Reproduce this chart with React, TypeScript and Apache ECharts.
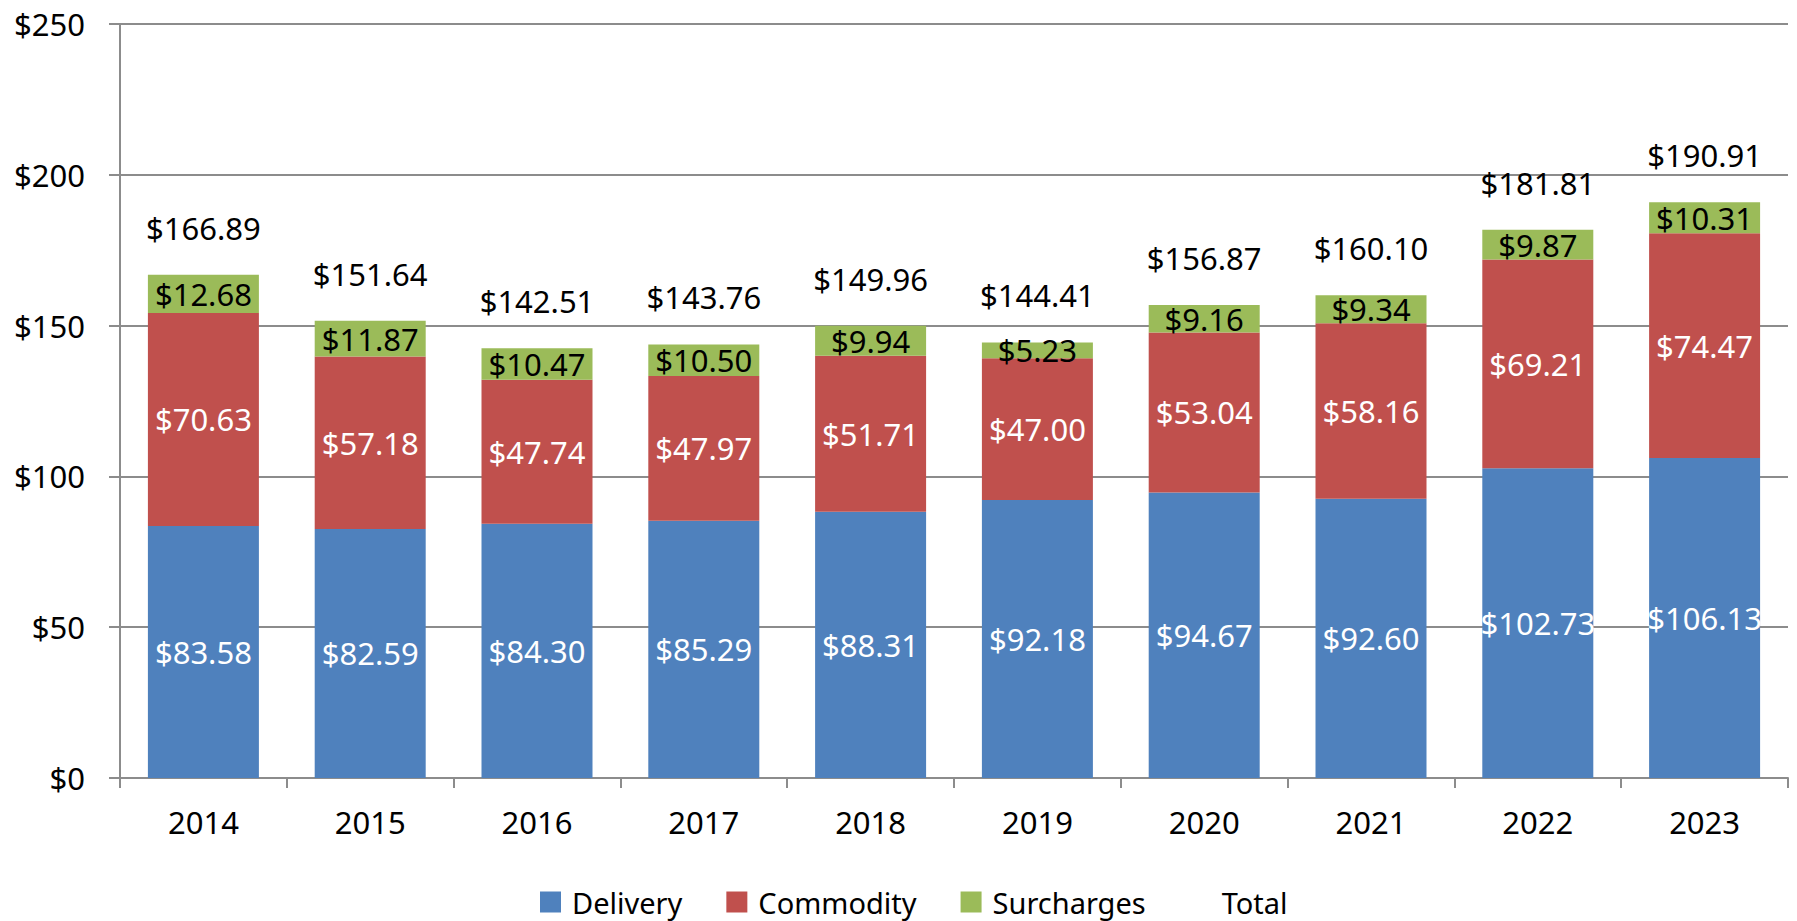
import React, { useEffect, useRef } from "react";
import * as echarts from "echarts";

const years = ["2014", "2015", "2016", "2017", "2018", "2019", "2020", "2021", "2022", "2023"];
const delivery = [83.58, 82.59, 84.3, 85.29, 88.31, 92.18, 94.67, 92.6, 102.73, 106.13];
const commodity = [70.63, 57.18, 47.74, 47.97, 51.71, 47.0, 53.04, 58.16, 69.21, 74.47];
const surcharges = [12.68, 11.87, 10.47, 10.5, 9.94, 5.23, 9.16, 9.34, 9.87, 10.31];
const total = [166.89, 151.64, 142.51, 143.76, 149.96, 144.41, 156.87, 160.1, 181.81, 190.91];

const FONT = "Noto Sans";
const money = (p: any) => "$" + Number(p.value).toFixed(2);

export default function App() {
  const ref = useRef<HTMLDivElement>(null);
  useEffect(() => {
    if (!ref.current) return;
    const chart = echarts.init(ref.current, undefined, { renderer: "svg" });
    const barLabel = (color: string) => ({
      show: true,
      position: "inside" as const,
      color,
      fontFamily: FONT,
      fontSize: 31,
      formatter: money,
    });
    chart.setOption({
      animation: false,
      textStyle: { fontFamily: FONT },
      grid: { left: 120, right: 9, top: 24, bottom: 143 },
      legend: {
        left: 535,
        top: 880,
        itemWidth: 21,
        itemHeight: 21,
        itemGap: 44,
        textStyle: { fontFamily: FONT, fontSize: 29, color: "#000", lineHeight: 34, padding: [0, 0, 0, 6] },
        data: [
          { name: "Delivery", icon: "rect" },
          { name: "Commodity", icon: "rect" },
          { name: "Surcharges", icon: "rect" },
          { name: "Total", icon: "rect", itemStyle: { opacity: 0 }, lineStyle: { opacity: 0 } },
        ],
      },
      xAxis: {
        type: "category",
        data: years,
        axisLine: { lineStyle: { color: "#8c8c8c", width: 2 } },
        axisTick: { show: true, length: 10, lineStyle: { color: "#8c8c8c", width: 2 } },
        axisLabel: { color: "#000", fontFamily: FONT, fontSize: 31, margin: 28 },
      },
      yAxis: {
        type: "value",
        min: 0,
        max: 250,
        interval: 50,
        axisLine: { show: true, lineStyle: { color: "#8c8c8c", width: 2 } },
        axisTick: { show: true, length: 11, lineStyle: { color: "#8c8c8c", width: 2 } },
        splitLine: { lineStyle: { color: "#8c8c8c", width: 2 } },
        axisLabel: {
          color: "#000",
          fontFamily: FONT,
          fontSize: 31,
          margin: 35,
          formatter: (v: number) => "$" + v,
        },
      },
      series: [
        {
          name: "Delivery",
          type: "bar",
          stack: "a",
          barWidth: 111,
          data: delivery,
          itemStyle: { color: "#4F81BD" },
          label: barLabel("#fff"),
        },
        {
          name: "Commodity",
          type: "bar",
          stack: "a",
          barWidth: 111,
          data: commodity,
          itemStyle: { color: "#C0504D" },
          label: barLabel("#fff"),
        },
        {
          name: "Surcharges",
          type: "bar",
          stack: "a",
          barWidth: 111,
          data: surcharges,
          itemStyle: { color: "#9BBB59" },
          label: barLabel("#000"),
        },
        {
          name: "Total",
          type: "line",
          data: total,
          symbol: "circle",
          symbolSize: 1,
          itemStyle: { color: "rgba(0,0,0,0)" },
          lineStyle: { opacity: 0 },
          label: {
            show: true,
            position: "top",
            distance: 31,
            color: "#000",
            fontFamily: FONT,
            fontSize: 31,
            formatter: money,
          },
        },
      ],
    });
    return () => chart.dispose();
  }, []);
  return (
    <div
      ref={ref}
      style={{ position: "absolute", left: 0, top: 0, width: 1797, height: 921, background: "#fff" }}
    />
  );
}
